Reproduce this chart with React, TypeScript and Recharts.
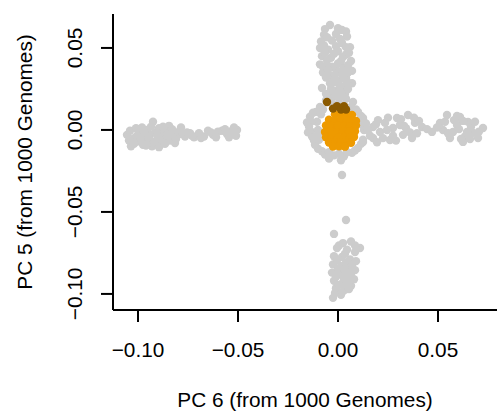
import React from 'react'
import { ScatterChart, Scatter, XAxis, YAxis } from 'recharts'

// [PC 6, PC 5] pairs, grouped by cluster
const leftArm = [
  [-0.1055, -0.003], [-0.104, -0.0005], [-0.1035, -0.01], [-0.102, -0.005], [-0.101, 0.001],
  [-0.1, -0.007], [-0.099, -0.0025], [-0.098, 0.0015], [-0.0975, -0.009], [-0.0965, -0.0045],
  [-0.0955, 0.0], [-0.095, -0.0075], [-0.094, -0.003], [-0.0925, 0.005], [-0.093, -0.01],
  [-0.0915, -0.0015], [-0.0905, -0.006], [-0.0895, 0.001], [-0.089, -0.009], [-0.088, -0.0035],
  [-0.087, 0.0005], [-0.086, -0.007], [-0.085, -0.002], [-0.0845, 0.0025], [-0.0835, -0.005],
  [-0.082, -0.001], [-0.0815, -0.008], [-0.08, -0.003], [-0.0785, 0.0015], [-0.0765, -0.004],
  [-0.074, -0.002], [-0.072, -0.0045], [-0.0695, -0.002], [-0.067, -0.004], [-0.065, -0.0005],
  [-0.0625, -0.003], [-0.06, -0.001], [-0.058, -0.0005], [-0.0555, -0.0025], [-0.053, -0.0005],
  [-0.051, -0.0035], [-0.0505, 0.0],
  [-0.1045, -0.0065], [-0.102, -0.0085], [-0.1005, -0.0035], [-0.0985, -0.0055], [-0.097, -0.0012],
  [-0.096, -0.0095], [-0.0945, -0.0055], [-0.0935, 0.002], [-0.092, -0.0075], [-0.0905, -0.003],
  [-0.0895, -0.0105], [-0.088, -0.006], [-0.0875, 0.002], [-0.0865, -0.0085], [-0.0855, -0.0045],
  [-0.084, -0.0065], [-0.083, 0.0005], [-0.081, -0.0055], [-0.0795, -0.0015], [-0.0775, -0.0025],
  [-0.0755, -0.0015], [-0.073, -0.0035], [-0.0685, -0.005], [-0.0635, -0.0015], [-0.061, -0.0045],
  [-0.0565, 0.0005], [-0.0545, -0.0045], [-0.052, 0.0015],
]

const upperArm = [
  [-0.004, 0.064], [0.002, 0.061], [-0.007, 0.058], [-0.001, 0.0585], [0.0045, 0.057],
  [-0.0085, 0.054], [-0.003, 0.0545], [0.002, 0.053], [0.006, 0.0505], [-0.009, 0.05],
  [-0.005, 0.049], [0.0, 0.048], [0.004, 0.046], [-0.008, 0.045], [-0.0035, 0.044],
  [0.0065, 0.042], [0.0015, 0.042], [-0.009, 0.04], [-0.005, 0.039], [0.003, 0.038],
  [-0.001, 0.037], [0.007, 0.036], [-0.0075, 0.035], [-0.003, 0.033], [0.004, 0.032],
  [0.0005, 0.03], [-0.004, 0.0285], [0.007, 0.0285], [0.003, 0.026], [-0.008, 0.0256],
  [-0.001, 0.024], [0.0035, 0.022], [-0.0035, 0.021], [0.0005, 0.0195], [0.0075, 0.017],
  [-0.006, 0.018],
  [-0.0065, 0.0615], [0.0, 0.062], [0.004, 0.06], [-0.0055, 0.0565], [0.001, 0.0555],
  [-0.007, 0.0515], [-0.001, 0.051], [0.004, 0.0505], [-0.0065, 0.047], [-0.002, 0.0465],
  [0.0025, 0.0445], [0.0055, 0.047], [-0.0055, 0.0425], [0.0, 0.0405], [0.005, 0.0395],
  [-0.0075, 0.0385], [-0.003, 0.0385], [0.0015, 0.0355], [-0.005, 0.0365], [0.005, 0.035],
  [-0.0015, 0.0335], [0.0025, 0.033], [-0.006, 0.032], [-0.002, 0.029], [0.0045, 0.0295],
  [0.001, 0.027], [-0.0035, 0.025], [0.005, 0.025], [-0.006, 0.022], [0.0015, 0.0225],
  [-0.0015, 0.0205], [0.004, 0.019], [-0.0035, 0.017], [0.0005, 0.0165],
]

const centerRef = [
  [-0.014, 0.008], [-0.0145, 0.002], [-0.013, -0.004], [-0.011, 0.011], [-0.0115, -0.009],
  [-0.009, 0.014], [-0.008, -0.013], [-0.0065, -0.015], [-0.002, -0.0155], [0.003, -0.016],
  [0.007, -0.014], [0.01, -0.011], [0.0125, -0.006], [0.013, 0.0], [0.0125, 0.006],
  [0.01, 0.011], [0.0065, 0.014], [-0.0105, 0.005], [-0.01, -0.003], [0.002, -0.0275],
  [-0.0125, 0.0105], [-0.0135, 0.005], [-0.0135, -0.001], [-0.012, -0.0065], [-0.01, -0.0115],
  [-0.0075, 0.0125], [-0.0045, -0.0135], [0.0005, -0.0145], [0.0045, -0.0135], [0.0085, -0.0125],
  [0.0115, -0.0085], [0.0115, 0.0035], [0.0115, 0.0085], [0.009, 0.0125], [0.0045, 0.0125],
  [-0.01, 0.0], [-0.0095, -0.006], [-0.0085, 0.0095], [-0.0155, 0.0045], [-0.015, -0.0015],
  [0.0015, -0.0185], [-0.0045, -0.0175],
]

const rightArmA = [
  [0.0125, 0.0073], [0.0175, 0.0018], [0.0175, -0.0049], [0.021, -0.0012], [0.0235, 0.0043],
  [0.026, -0.0061], [0.0295, 0.0073], [0.0325, -0.003], [0.035, 0.0091], [0.037, -0.0049],
  [0.0385, 0.0043], [0.042, 0.0018], [0.0125, -0.0073], [0.0275, 0.0012], [0.031, 0.003],
  [0.015, 0.0], [0.02, 0.006], [0.0225, -0.005], [0.034, 0.001], [0.029, -0.0065],
  [0.014, 0.004], [0.016, -0.0035], [0.019, 0.0035], [0.0195, -0.0075], [0.0245, 0.0],
  [0.025, 0.0075], [0.0275, -0.0035], [0.0315, 0.0065], [0.033, 0.0025], [0.036, -0.0015],
  [0.0395, -0.002], [0.038, 0.0075], [0.0405, 0.0055], [0.0445, 0.0005],
]

const rightArmB = [
  [0.047, -0.0012], [0.051, 0.0043], [0.0545, 0.0091], [0.056, -0.0049], [0.0595, 0.003],
  [0.061, 0.0079], [0.0625, -0.0073], [0.065, 0.0049], [0.0675, -0.0018], [0.07, -0.0049],
  [0.0725, 0.0012], [0.0575, -0.0012], [0.0525, 0.0], [0.0645, -0.0012], [0.0595, 0.0085],
  [0.0495, 0.0015], [0.0535, 0.005], [0.055, -0.002], [0.058, 0.006], [0.0605, 0.0005],
  [0.0625, 0.0055], [0.0635, -0.004], [0.0665, 0.002], [0.0685, 0.005], [0.0705, -0.001],
  [0.066, -0.0055], [0.0615, -0.0055],
]

const lowerArm = [
  [0.004, -0.0549], [-0.002, -0.0634], [0.0025, -0.069], [0.0065, -0.068], [0.011, -0.072],
  [-0.0005, -0.072], [0.0045, -0.073], [0.0085, -0.0745], [-0.002, -0.077], [0.002, -0.0775],
  [0.006, -0.079], [0.009, -0.08], [-0.0025, -0.082], [0.0015, -0.083], [0.0055, -0.084],
  [0.0085, -0.0855], [-0.003, -0.087], [0.001, -0.088], [0.005, -0.0885], [0.008, -0.091],
  [-0.002, -0.092], [0.0025, -0.093], [0.0065, -0.095], [-0.001, -0.0965], [0.0035, -0.0975],
  [-0.0025, -0.1024], [0.0015, -0.1005],
  [0.0005, -0.0705], [0.0085, -0.0705], [0.0035, -0.0755], [-0.0005, -0.0795], [0.004, -0.081],
  [0.007, -0.0825], [0.0, -0.085], [0.0035, -0.086], [0.0065, -0.0875], [-0.001, -0.0895],
  [0.003, -0.0905], [0.0055, -0.092], [0.0005, -0.0945], [0.0045, -0.095], [-0.0015, -0.0995],
  [0.002, -0.099], [0.0055, -0.097],
]

const studySamples = [
  [-0.0015, 0.0095], [0.0015, 0.0098], [0.0045, 0.0094], [0.007, 0.0092],
  [-0.0045, 0.0062], [-0.0015, 0.0058], [0.0015, 0.0063], [0.0045, 0.0057], [0.0075, 0.006], [0.009, 0.0055],
  [-0.006, 0.0027], [-0.003, 0.0022], [0.0, 0.0026], [0.003, 0.0024], [0.006, 0.0021], [0.009, 0.0028],
  [-0.0065, -0.0012], [-0.0035, -0.0008], [-0.0005, -0.0013], [0.0025, -0.0009], [0.0055, -0.0011], [0.0085, -0.0008],
  [-0.006, -0.0045], [-0.003, -0.0042], [0.0, -0.0047], [0.003, -0.0044], [0.006, -0.0046], [0.008, -0.0043],
  [-0.0045, -0.0077], [-0.0015, -0.0073], [0.0015, -0.0076], [0.0045, -0.0074], [0.0065, -0.0078],
  [-0.0025, -0.0101], [0.0005, -0.0099], [0.0035, -0.0102],
]

const studyOutgroup = [
  [-0.0055, 0.017], [-0.0025, 0.013], [-0.0005, 0.0145], [0.0015, 0.0125], [0.003, 0.0145], [0.004, 0.0125],
]

const pc6Ticks = [-0.1, -0.05, 0, 0.05]
const pc5Ticks = [-0.1, -0.05, 0, 0.05]

const toRows = (pts: number[][]) => pts.map(([x, y]) => ({ x, y }))
const refData = toRows([...leftArm, ...upperArm, ...centerRef, ...rightArmA, ...rightArmB, ...lowerArm])

const FONT = 'Liberation Sans, Arial, Helvetica, sans-serif'
const FS = 20.8

const fmt = (v: number) => (v < 0 ? '\u2212' : '') + Math.abs(v).toFixed(2)

const dot = (color: string) => (p: any) => <circle cx={p.cx} cy={p.cy} r={4.2} fill={color} />

const XTick = (p: any) => (
  <text x={p.x} y={p.y + 35} textAnchor="middle" fontFamily={FONT} fontSize={FS} fill="#000">
    {fmt(p.payload.value)}
  </text>
)

const YTick = (p: any) => {
  const bx = p.x - 19
  return (
    <text x={bx} y={p.y} transform={`rotate(-90, ${bx}, ${p.y})`} textAnchor="middle" fontFamily={FONT} fontSize={FS} fill="#000">
      {fmt(p.payload.value)}
    </text>
  )
}

const XTitle = () => (
  <text x={305} y={407} textAnchor="middle" fontFamily={FONT} fontSize={FS} fill="#000">
    PC 6 (from 1000 Genomes)
  </text>
)

const YTitle = () => (
  <text x={32} y={162} transform="rotate(-90, 32, 162)" textAnchor="middle" fontFamily={FONT} fontSize={FS} fill="#000">
    PC 5 (from 1000 Genomes)
  </text>
)

export default function App() {
  return (
    <div style={{ position: 'absolute', left: 0, top: 0, background: '#fff' }}>
      <ScatterChart width={501} height={417} margin={{ top: 14, right: 4, left: 0, bottom: 0 }}>
        <XAxis
          type="number"
          dataKey="x"
          domain={[-0.1125, 0.0795]}
          ticks={pc6Ticks}
          allowDataOverflow
          height={107}
          tickSize={12}
          tickMargin={0}
          axisLine={{ stroke: '#000', strokeWidth: 2 }}
          tickLine={{ stroke: '#000', strokeWidth: 2 }}
          tick={<XTick />}
          label={{ content: XTitle }}
        />
        <YAxis
          type="number"
          dataKey="y"
          domain={[-0.1098, 0.0707]}
          ticks={pc5Ticks}
          allowDataOverflow
          width={113}
          tickSize={12}
          tickMargin={0}
          axisLine={{ stroke: '#000', strokeWidth: 2 }}
          tickLine={{ stroke: '#000', strokeWidth: 2 }}
          tick={<YTick />}
          label={{ content: YTitle }}
        />
        <Scatter data={refData} fill="#cccccc" shape={dot('#cccccc')} isAnimationActive={false} />
        <Scatter data={toRows(studySamples)} fill="#ee9a00" shape={dot('#ee9a00')} isAnimationActive={false} />
        <Scatter data={toRows(studyOutgroup)} fill="#8b5a00" shape={dot('#8b5a00')} isAnimationActive={false} />
      </ScatterChart>
    </div>
  )
}
